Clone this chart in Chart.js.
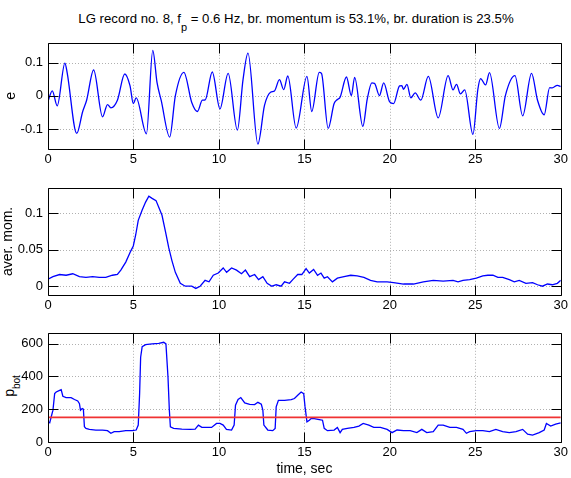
<!DOCTYPE html>
<html><head><meta charset="utf-8">
<script src="https://cdn.jsdelivr.net/npm/chart.js@4"></script>
<style>
html,body{margin:0;padding:0;background:#fff;}
body{width:571px;height:478px;overflow:hidden;position:relative;font-family:"Liberation Sans",Arial,sans-serif;color:#000;}
canvas{position:absolute;left:0;}
#title{position:absolute;left:296px;top:11px;transform:translateX(-50%);white-space:nowrap;font-size:13.2px;line-height:15px;}
#title .sub{position:relative;top:8px;font-size:11px;}
#plabel{position:absolute;left:10px;top:386px;transform:translate(-50%,-50%) rotate(-90deg);white-space:nowrap;font-size:14px;line-height:16px;}
#plabel .sub{position:relative;top:6px;font-size:10px;}
</style></head>
<body>
<div id="title">LG record no. 8, f<span class="sub">p</span> = 0.6 Hz, br. momentum is 53.1%, br. duration is 23.5%</div>
<div id="plabel">p<span class="sub">bot</span></div>
<canvas id="c1" width="571" height="145" style="top:30px"></canvas>
<canvas id="c2" width="571" height="145" style="top:175px"></canvas>
<canvas id="c3" width="571" height="158" style="top:320px"></canvas>
<script>
// ---- data ----
const xTicks = [0, 5, 10, 15, 20, 25, 30];
const eTicks = [-0.1, 0, 0.1];
const momTicks = [0, 0.05, 0.1];
const pTicks = [0, 200, 400, 600];

const eTime = [0,0.25,0.54,0.99,1.12,1.68,2.03,2.26,2.67,3.19,3.48,3.68,4.06,4.49,4.80,4.99,5.16,5.76,6.13,6.38,6.62,7.12,7.45,7.95,8.41,8.74,9.03,9.20,9.61,10.06,10.54,11.08,11.41,11.70,12.28,12.67,13.02,13.25,13.54,13.79,14.03,14.52,15.15,15.43,15.87,16.0,16.39,16.74,16.93,17.09,17.46,17.75,17.94,18.42,18.68,18.95,19.10,19.39,19.64,19.99,20.22,20.57,20.70,20.80,21.00,21.23,21.48,21.81,22.25,22.83,23.41,23.70,23.90,24.13,24.38,24.86,25.15,25.31,25.60,25.83,26.41,26.76,27.32,27.77,28.29,28.64,29.03,29.35,29.50,29.80,30.0];
const eVal = [-0.016,0.015,-0.03,0.099,0.07,-0.113,-0.047,-0.013,0.078,-0.063,-0.026,-0.036,-0.013,0.066,0.03,-0.023,-0.006,-0.114,0.137,0.04,-0.013,-0.124,0.0,0.071,-0.02,-0.047,-0.013,-0.012,0.072,-0.039,0.068,-0.103,0.049,0.129,-0.145,-0.028,0.011,0.015,0.049,0.019,0.06,-0.097,0.059,-0.047,0.071,0.068,-0.098,-0.023,-0.011,-0.004,0.057,0.001,0.056,-0.092,-0.009,0.039,0.038,0.001,0.039,-0.018,-0.023,0.03,0.031,0.02,0.035,-0.006,0.009,-0.013,0.059,-0.066,0.061,0.018,0.035,0.006,0.018,-0.116,0.02,0.052,0.033,0.07,-0.098,0.001,0.061,-0.06,0.068,-0.013,-0.057,0.025,0.024,0.032,0.028];

const momTime = [0,0.29,0.68,1.06,1.45,1.84,2.22,2.61,3.0,3.38,3.77,4.06,4.26,4.55,4.84,4.99,5.13,5.28,5.51,5.71,5.9,6.09,6.32,6.48,6.67,6.87,7.06,7.25,7.45,7.74,8.03,8.41,8.65,8.9,9.19,9.42,9.67,9.96,10.25,10.45,10.74,11.03,11.32,11.55,11.8,12.09,12.32,12.57,12.82,13.1,13.35,13.64,13.84,14.13,14.32,14.61,14.85,15.1,15.29,15.54,15.77,15.97,16.16,16.35,16.64,16.93,17.32,17.71,18.09,18.48,18.87,19.26,19.84,20.22,20.8,21.38,21.96,22.54,23.12,23.7,23.99,24.28,24.67,25.06,25.44,25.73,26.03,26.32,26.6,26.99,27.28,27.57,27.96,28.35,28.64,28.93,29.22,29.5,29.8,30];
const momVal = [0.0097,0.013,0.016,0.015,0.017,0.013,0.012,0.013,0.012,0.012,0.015,0.016,0.022,0.033,0.048,0.055,0.07,0.09,0.104,0.115,0.123,0.12,0.117,0.108,0.097,0.075,0.053,0.035,0.019,0.004,0.0,0.0,-0.003,0.0,0.008,0.006,0.015,0.018,0.025,0.019,0.025,0.022,0.017,0.022,0.013,0.016,0.009,0.013,0.004,0.0,0.002,0.0,0.006,0.004,0.009,0.016,0.016,0.024,0.018,0.023,0.015,0.018,0.011,0.013,0.006,0.011,0.013,0.015,0.014,0.012,0.008,0.006,0.006,0.005,0.003,0.003,0.006,0.008,0.007,0.008,0.006,0.008,0.009,0.011,0.014,0.015,0.015,0.012,0.012,0.009,0.006,0.008,0.004,0.005,0.002,0.0,0.003,0.002,0.004,0.008];

const pTime = [0,0.1,0.19,0.29,0.39,0.48,0.68,0.77,0.87,1.06,1.35,1.55,1.74,1.84,1.9,2.0,2.07,2.13,2.22,2.42,2.8,3.19,3.48,3.68,3.87,4.16,4.55,4.93,5.16,5.28,5.36,5.42,5.51,5.71,6.09,6.48,6.77,6.9,7.02,7.1,7.16,7.35,7.83,8.32,8.61,8.8,9.0,9.28,9.57,9.86,10.06,10.25,10.44,10.74,10.89,10.97,11.12,11.28,11.51,11.8,12.09,12.28,12.48,12.57,12.63,12.86,13.15,13.29,13.35,13.48,13.84,14.23,14.42,14.61,14.81,14.96,15.04,15.15,15.29,15.39,15.58,15.87,16.06,16.16,16.35,16.74,16.93,17.09,17.22,17.51,17.9,18.19,18.44,18.77,19.06,19.45,19.84,20.13,20.42,20.8,21.19,21.58,21.87,22.16,22.54,22.83,23.12,23.51,23.9,24.28,24.48,24.67,25.06,25.44,25.83,26.2,26.6,26.99,27.38,27.77,28.06,28.35,28.74,29.03,29.16,29.41,29.7,30];
const pVal = [123,117,154,194,295,305,315,319,279,271,271,259,250,234,194,204,200,93,83,77,73,73,69,53,63,63,69,69,73,103,295,517,582,594,598,602,608,598,396,194,93,83,79,77,79,103,89,89,89,113,113,103,77,73,103,224,259,271,238,230,228,242,230,194,103,73,69,83,214,254,254,259,265,285,305,295,214,123,133,143,143,137,133,83,69,73,89,57,77,83,89,97,113,103,89,89,77,57,73,69,69,57,77,57,63,103,103,89,89,77,53,63,69,69,63,77,63,57,63,77,48,42,57,73,113,97,109,117];
const pThreshold = 150;

// ---- drawing ----
const FONT = '"Liberation Sans", Arial, sans-serif';
const toXY = (xs, ys) => xs.map((t, i) => ({x: t, y: ys[i]}));

const matlabAxes = {
  id: 'matlabAxes',
  beforeDatasetsDraw(chart, args, opts) {
    const {ctx, chartArea: a, scales: {x, y}} = chart;
    ctx.save();
    ctx.strokeStyle = '#b0b0b0';
    ctx.lineWidth = 1;
    ctx.setLineDash([1, 2]);
    ctx.beginPath();
    xTicks.forEach(v => {
      const px = Math.round(x.getPixelForValue(v)) + 0.5;
      if (px > a.left + 2 && px < a.right - 2) { ctx.moveTo(px, a.top); ctx.lineTo(px, a.bottom); }
    });
    opts.yTicks.forEach(v => {
      const py = Math.round(y.getPixelForValue(v)) + 0.5;
      if (py > a.top + 2 && py < a.bottom - 2) { ctx.moveTo(a.left, py); ctx.lineTo(a.right, py); }
    });
    ctx.stroke();
    ctx.restore();
  },
  afterDatasetsDraw(chart, args, opts) {
    const {ctx, chartArea: a, scales: {x, y}} = chart;
    const L = Math.round(a.left) + 0.5, R = Math.round(a.right) + 0.5;
    const T = Math.round(a.top) + 0.5, B = Math.round(a.bottom) + 0.5;
    const tl = 10;
    ctx.save();
    ctx.strokeStyle = '#000';
    ctx.lineWidth = 1;
    ctx.setLineDash([]);
    ctx.beginPath();
    ctx.rect(L, T, R - L, B - T);
    xTicks.forEach(v => {
      const px = Math.round(x.getPixelForValue(v)) + 0.5;
      ctx.moveTo(px, B); ctx.lineTo(px, B - tl);
      ctx.moveTo(px, T); ctx.lineTo(px, T + tl);
    });
    opts.yTicks.forEach(v => {
      const py = Math.round(y.getPixelForValue(v)) + 0.5;
      ctx.moveTo(L, py); ctx.lineTo(L + tl, py);
      ctx.moveTo(R, py); ctx.lineTo(R - tl, py);
    });
    ctx.stroke();
    ctx.restore();
  }
};

function makeChart(id, datasets, yMin, yMax, yTicks, padTop, xHeight, yTitle, xTitle) {
  return new Chart(document.getElementById(id), {
    type: 'line',
    data: {datasets},
    plugins: [matlabAxes],
    options: {
      responsive: false,
      animation: false,
      devicePixelRatio: 1,
      layout: {autoPadding: false, padding: {left: 0, right: 6, top: padTop, bottom: 0}},
      plugins: {legend: {display: false}, tooltip: {enabled: false}, matlabAxes: {yTicks}},
      elements: {point: {radius: 0}},
      scales: {
        x: {
          type: 'linear', min: 0, max: 30,
          afterBuildTicks: s => { s.ticks = xTicks.map(v => ({value: v})); },
          afterFit: s => { s.height = xHeight; },
          grid: {display: false, drawTicks: false},
          border: {display: false},
          ticks: {color: '#000', font: {family: FONT, size: 13}, padding: 3, maxRotation: 0, autoSkip: false, callback: v => String(v)},
          title: xTitle ? {display: true, text: xTitle, color: '#000', font: {family: FONT, size: 14}, padding: {top: 0, bottom: 0}} : {display: false}
        },
        y: {
          type: 'linear', min: yMin, max: yMax,
          afterBuildTicks: s => { s.ticks = yTicks.map(v => ({value: v})); },
          afterFit: s => { s.width = 48; },
          grid: {display: false, drawTicks: false},
          border: {display: false},
          ticks: {color: '#000', font: {family: FONT, size: 13}, padding: 5, autoSkip: false, callback: v => String(v)},
          title: yTitle ? {display: true, text: yTitle.text, color: '#000', font: {family: FONT, size: 14}, padding: {top: yTitle.pad, bottom: 0}} : {display: false}
        }
      }
    }
  });
}

const blue = {borderColor: '#0000ff', borderWidth: 1.3, fill: false, pointRadius: 0};

makeChart('c1', [
  Object.assign({data: toXY(eTime, eVal), cubicInterpolationMode: 'monotone'}, blue)
], -0.16, 0.16, eTicks, 8, 26, {text: 'e', pad: 3}, null);

makeChart('c2', [
  Object.assign({data: toXY(momTime, momVal), tension: 0}, blue)
], -0.012, 0.1345, momTicks, 10, 25, {text: 'aver. mom.', pad: 0}, null);

makeChart('c3', [
  {data: [{x: 0, y: pThreshold}, {x: 30, y: pThreshold}], borderColor: '#f03232', borderWidth: 1.8, pointRadius: 0, tension: 0},
  Object.assign({data: toXY(pTime, pVal), tension: 0}, blue)
], 0, 666, pTicks, 12, 36, null, 'time, sec');
</script>
</body></html>
